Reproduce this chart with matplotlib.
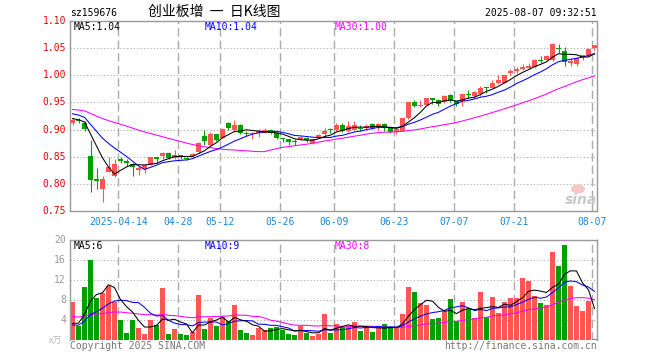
import numpy as np
import pandas as pd
import matplotlib
matplotlib.use("Agg")
import matplotlib.pyplot as plt
from matplotlib.patches import Ellipse

# ---------------- data ----------------
dates = pd.bdate_range("2025-04-01", "2025-08-07")
holidays = pd.to_datetime(["2025-04-04", "2025-05-01", "2025-05-02", "2025-05-05", "2025-06-02"])
dates = dates[~dates.isin(holidays)]

open_ = [0.913, 0.918, 0.913, 0.852, 0.809, 0.791, 0.821, 0.815, 0.845, 0.842,
         0.837, 0.826, 0.828, 0.835, 0.849, 0.851, 0.856, 0.848, 0.853, 0.848,
         0.851, 0.858, 0.889, 0.872, 0.891, 0.885, 0.912, 0.900, 0.909, 0.894,
         0.892, 0.894, 0.894, 0.900, 0.893, 0.884, 0.882, 0.879, 0.882, 0.885,
         0.875, 0.885, 0.891, 0.901, 0.900, 0.909, 0.897, 0.900, 0.903, 0.902,
         0.910, 0.907, 0.911, 0.903, 0.895, 0.898, 0.921, 0.950, 0.943, 0.946,
         0.958, 0.955, 0.950, 0.963, 0.952, 0.953, 0.966, 0.961, 0.966, 0.978,
         0.977, 0.986, 0.986, 1.004, 1.007, 1.012, 1.014, 1.015, 1.029, 1.029,
         1.029, 1.050, 1.044, 1.023, 1.021, 1.033, 1.037, 1.050]
high = [0.922, 0.922, 0.916, 0.880, 0.829, 0.814, 0.850, 0.845, 0.850, 0.846,
        0.839, 0.832, 0.836, 0.850, 0.850, 0.859, 0.858, 0.862, 0.853, 0.850,
        0.857, 0.877, 0.899, 0.895, 0.892, 0.903, 0.914, 0.918, 0.910, 0.897,
        0.895, 0.901, 0.903, 0.901, 0.896, 0.884, 0.882, 0.882, 0.888, 0.886,
        0.883, 0.892, 0.903, 0.903, 0.913, 0.913, 0.915, 0.915, 0.909, 0.910,
        0.912, 0.912, 0.913, 0.905, 0.902, 0.922, 0.951, 0.955, 0.955, 0.959,
        0.958, 0.956, 0.964, 0.966, 0.953, 0.968, 0.972, 0.971, 0.980, 0.978,
        0.992, 1.000, 1.001, 1.012, 1.015, 1.020, 1.023, 1.030, 1.035, 1.038,
        1.060, 1.057, 1.052, 1.031, 1.033, 1.038, 1.050, 1.055]
low = [0.909, 0.913, 0.897, 0.785, 0.791, 0.766, 0.821, 0.813, 0.839, 0.833,
       0.815, 0.817, 0.820, 0.834, 0.839, 0.845, 0.845, 0.845, 0.845, 0.844,
       0.847, 0.857, 0.871, 0.871, 0.879, 0.884, 0.900, 0.896, 0.892, 0.889,
       0.882, 0.886, 0.893, 0.892, 0.883, 0.877, 0.871, 0.871, 0.880, 0.878,
       0.874, 0.884, 0.888, 0.893, 0.897, 0.895, 0.895, 0.899, 0.897, 0.900,
       0.901, 0.900, 0.897, 0.893, 0.891, 0.897, 0.920, 0.941, 0.941, 0.945,
       0.947, 0.943, 0.949, 0.950, 0.943, 0.943, 0.958, 0.958, 0.961, 0.968,
       0.976, 0.984, 0.985, 1.001, 1.004, 1.009, 1.011, 1.014, 1.023, 1.026,
       1.027, 1.041, 1.017, 1.017, 1.017, 1.029, 1.035, 1.047]
close = [0.918, 0.916, 0.901, 0.808, 0.806, 0.809, 0.831, 0.836, 0.842, 0.838,
         0.831, 0.829, 0.834, 0.849, 0.845, 0.856, 0.848, 0.853, 0.850, 0.846,
         0.855, 0.875, 0.879, 0.891, 0.880, 0.901, 0.902, 0.909, 0.894, 0.892,
         0.894, 0.897, 0.900, 0.894, 0.885, 0.882, 0.877, 0.877, 0.886, 0.880,
         0.882, 0.890, 0.898, 0.899, 0.909, 0.897, 0.907, 0.909, 0.901, 0.907,
         0.903, 0.910, 0.903, 0.895, 0.901, 0.921, 0.950, 0.943, 0.945, 0.958,
         0.955, 0.947, 0.961, 0.952, 0.947, 0.966, 0.964, 0.969, 0.977, 0.976,
         0.986, 0.991, 1.001, 1.007, 1.012, 1.015, 1.017, 1.029, 1.027, 1.036,
         1.058, 1.048, 1.025, 1.026, 1.032, 1.037, 1.049, 1.055]
volume = [7.67, 2.8, 10.6, 16.0, 8.4, 9.4, 10.9, 7.7, 4.0, 1.4,
          4.0, 2.4, 1.2, 4.0, 3.0, 10.4, 1.2, 2.2, 1.2, 1.0,
          1.6, 9.0, 2.2, 4.4, 2.8, 4.6, 3.8, 7.0, 2.0, 1.4,
          1.0, 2.4, 2.0, 2.4, 2.6, 2.0, 1.2, 1.0, 2.8, 1.4,
          0.8, 1.2, 5.2, 1.4, 3.2, 2.6, 2.8, 3.6, 1.8, 2.6,
          1.6, 2.6, 3.2, 2.4, 2.6, 5.2, 10.6, 9.6, 7.4, 7.0,
          4.2, 4.4, 5.8, 8.2, 3.8, 7.6, 6.2, 4.4, 9.6, 4.6,
          8.6, 5.4, 7.6, 8.4, 8.4, 12.4, 11.9, 8.8, 7.4, 7.0,
          17.6, 14.8, 19.0, 10.8, 6.8, 5.8, 7.8, 0.2]

# closes / volumes before the visible window (only feed the moving averages)
pre_close = [0.945, 0.948, 0.952, 0.950, 0.946, 0.944, 0.941, 0.938, 0.940, 0.943,
             0.939, 0.936, 0.934, 0.937, 0.940, 0.942, 0.938, 0.935, 0.937, 0.934,
             0.940, 0.942, 0.937, 0.935, 0.936, 0.926, 0.922, 0.918, 0.917]
pre_volume = [6.2, 5.1, 4.8, 7.3, 6.0, 5.5, 4.2, 3.9, 5.8, 6.6,
              7.1, 5.0, 4.6, 5.3, 6.8, 5.9, 4.4, 5.2, 6.1, 5.2,
              3.1, 2.6, 2.9, 2.5, 2.4, 2.4, 2.0, 2.3, 2.1]

date_ticks = ["2025-04-14", "2025-04-28", "2025-05-12", "2025-05-26", "2025-06-09",
              "2025-06-23", "2025-07-07", "2025-07-21", "2025-08-07"]
date_tick_labels = ["2025-04-14", "04-28", "05-12", "05-26", "06-09",
                    "06-23", "07-07", "07-21", "08-07"]
price_ticks = [0.75, 0.80, 0.85, 0.90, 0.95, 1.00, 1.05, 1.10]
vol_ticks = [4, 8, 12, 16, 20]

# ---------------- derived ----------------
o = np.array(open_); h = np.array(high); l = np.array(low); c = np.array(close)
v = np.array(volume)
n = len(c)
x = np.arange(n)
npre = len(pre_close)
allc = pd.Series(list(pre_close) + list(close))
allv = pd.Series(list(pre_volume) + list(volume))
ma = {k: allc.rolling(k).mean().values[npre:] for k in (5, 10, 30)}
vma = {k: allv.rolling(k).mean().values[npre:] for k in (5, 10, 30)}

RED = "#FF5555"
GREEN = "#00A000"
up = c >= o
cols = np.where(up, RED, GREEN)

W, H = 660, 360
fig = plt.figure(figsize=(W / 100, H / 100), dpi=100)
fig.patch.set_facecolor("white")
MONO = "DejaVu Sans Mono"
FS = 7
LW = 0.75


def fx(px):
    return px / W


def fy(py):
    return 1 - py / H


L, R = 70, 597
axp = fig.add_axes([fx(L), fy(211), (R - L) / W, 190 / H])
axv = fig.add_axes([fx(L), fy(340), (R - L) / W, 100 / H])

xlim = ((L - 72.5) / 6, (R - 72.5) / 6)
grid_c = "#AAAAAA"
tick_idx = [int(np.where(dates == pd.Timestamp(d))[0][0]) for d in date_ticks]

for ax in (axp, axv):
    ax.set_xlim(*xlim)
    ax.set_xticks([])
    ax.set_yticks([])
    for s in ax.spines.values():
        s.set_color("#999999")
        s.set_linewidth(1.0)
    for ti in tick_idx:
        ax.axvline(ti - 0.35, color=grid_c, lw=1.0, ls=(0, (6, 3)), zorder=0)

axv.spines["bottom"].set_visible(False)

# price panel
axp.set_ylim(0.75, 1.10)
for p in price_ticks[1:-1]:
    axp.axhline(p, color=grid_c, lw=0.8, ls=(0, (1, 2)), zorder=0)
body_bottom = np.minimum(o, c)
body_h = np.maximum(np.abs(c - o), 0.0018)
axp.vlines(x, l, h, colors=cols, lw=0.8, zorder=2)
axp.bar(x, body_h, bottom=body_bottom, width=0.82, color=cols, lw=0, zorder=3)
axp.plot(x, ma[30], color="#FF00FF", lw=LW, zorder=4)
axp.plot(x, ma[10], color="#0000FF", lw=LW, zorder=4)
axp.plot(x, ma[5], color="#000000", lw=LW, zorder=4)

# volume panel
axv.set_ylim(0, 20)
for t in vol_ticks[:-1]:
    axv.axhline(t, color=grid_c, lw=0.8, ls=(0, (1, 2)), zorder=0)
axv.bar(x, v, width=0.82, color=cols, lw=0, zorder=2)
axv.plot(x, vma[30], color="#FF00FF", lw=LW, zorder=4)
axv.plot(x, vma[10], color="#0000FF", lw=LW, zorder=4)
axv.plot(x, vma[5], color="#000000", lw=LW, zorder=4)

# y tick labels
for p in price_ticks:
    ypx = 211 - (p - 0.75) / 0.35 * 190
    fig.text(fx(66), fy(ypx), f"{p:.2f}", color="#EE0000", family=MONO, fontsize=FS,
             ha="right", va="center")
for t in vol_ticks:
    ypx = 340 - t * 5
    fig.text(fx(66), fy(ypx), f"{t}", color="#999999", family=MONO, fontsize=FS,
             ha="right", va="center")

# x tick labels
for ti, lab in zip(tick_idx, date_tick_labels):
    xpx = 72.5 + 6 * ti - 2
    fig.text(fx(xpx), fy(222), lab, color="#1A88D8", family=MONO, fontsize=FS,
             ha="center", va="center")

# header
fig.text(fx(70), fy(13), "sz159676", color="black", family=MONO, fontsize=FS,
         ha="left", va="center")
fig.text(fx(214), fy(12), "创业板增  一  日K线图", color="black",
         family=["Noto Sans CJK SC", "DejaVu Sans"], fontsize=10, ha="center", va="center")
fig.text(fx(597), fy(13), "2025-08-07 09:32:51", color="black", family=MONO, fontsize=FS,
         ha="right", va="center")

# MA legends
fig.text(fx(74), fy(27), f"MA5:{ma[5][-1]:.2f}", color="black", family=MONO, fontsize=FS,
         ha="left", va="center")
fig.text(fx(205), fy(27), f"MA10:{ma[10][-1]:.2f}", color="#0000FF", family=MONO, fontsize=FS,
         ha="left", va="center")
fig.text(fx(335), fy(27), f"MA30:{ma[30][-1]:.2f}", color="#FF00FF", family=MONO, fontsize=FS,
         ha="left", va="center")
fig.text(fx(74), fy(246), f"MA5:{int(vma[5][-1])}", color="black", family=MONO, fontsize=FS,
         ha="left", va="center")
fig.text(fx(205), fy(246), f"MA10:{int(vma[10][-1])}", color="#0000FF", family=MONO, fontsize=FS,
         ha="left", va="center")
fig.text(fx(335), fy(246), f"MA30:{int(vma[30][-1])}", color="#FF00FF", family=MONO, fontsize=FS,
         ha="left", va="center")

# footer
fig.text(fx(49), fy(341), "x万", color="#BBBBBB", family=["Noto Sans CJK SC", "DejaVu Sans"],
         fontsize=6.5, ha="left", va="center")
fig.text(fx(70), fy(346), "Copyright 2025 SINA.COM", color="#777777", family=MONO, fontsize=FS,
         ha="left", va="center")
fig.text(fx(597), fy(346), "http://finance.sina.com.cn", color="#777777", family=MONO, fontsize=FS,
         ha="right", va="center")

# sina watermark
fig.patches.append(Ellipse((fx(578), fy(189)), 14 / W, 9 / H, transform=fig.transFigure,
                           facecolor="#F6C6C6", edgecolor="none", zorder=5))
fig.text(fx(581), fy(200), "sina", color="#C8C8C8", family="DejaVu Sans", fontsize=10,
         style="italic", weight="bold", ha="center", va="center", zorder=6)

fig.savefig("out.png", dpi=100, facecolor="white")
